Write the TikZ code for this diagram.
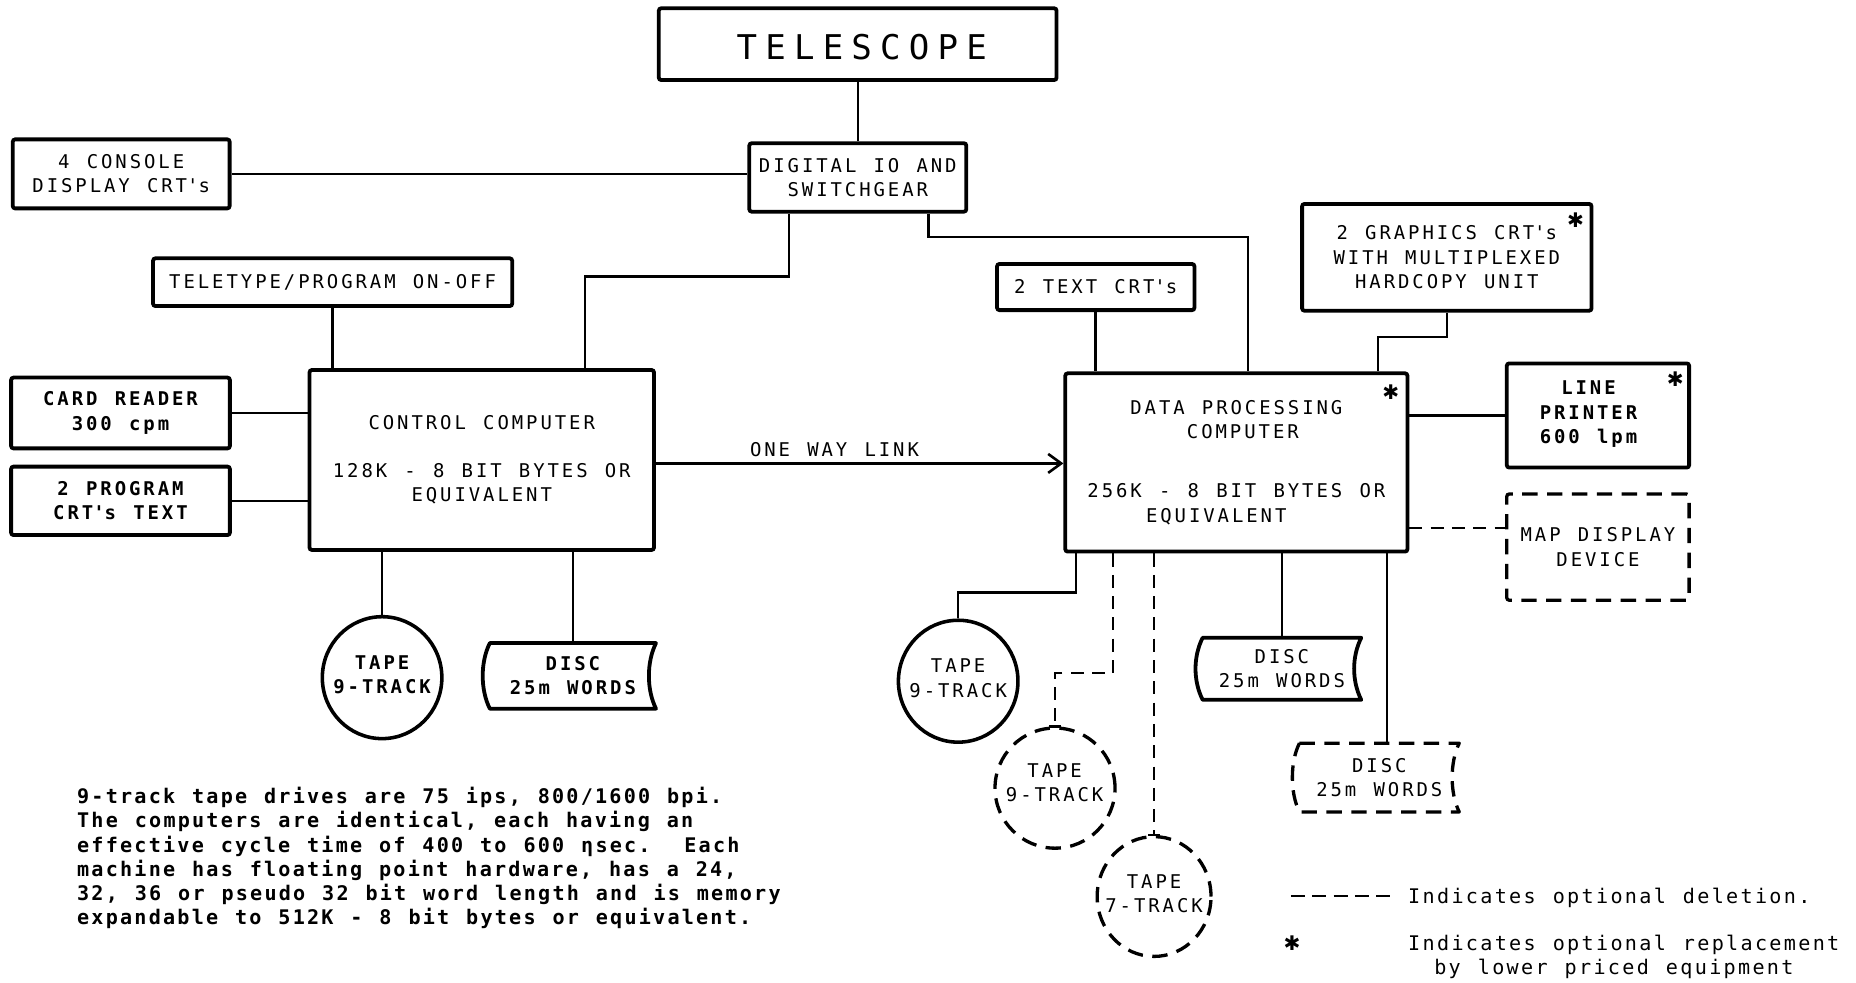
\documentclass[tikz,border=0pt]{standalone}
\usepackage{fontspec}
\usetikzlibrary{shapes.geometric,arrows.meta,calc}
\newfontfamily\lblfont[LetterSpace=15.5,WordSpace=1.2]{DejaVu Sans Mono}
\newfontfamily\bodyfont[LetterSpace=11,WordSpace=1.18]{DejaVu Sans Mono}
\newfontfamily\legfont[LetterSpace=11.5,WordSpace=1.18]{DejaVu Sans Mono}
\newfontfamily\telfont[LetterSpace=24]{DejaVu Sans Mono}
\newfontfamily\starfont{DejaVu Sans}
\newcommand\qsq{\textquotesingle}
\newcommand\discoutline[2]{%
  \draw[#2] (#1.north west) -- (#1.north east)
    .. controls ($(#1.north east)+(-8,16)$) and ($(#1.south east)+(-8,-16)$) .. (#1.south east)
    -- (#1.south west)
    .. controls ($(#1.south west)+(-8,-16)$) and ($(#1.north west)+(-8,16)$) .. cycle;}
\tikzset{
  wh/.style 2 args={minimum width=#1pt, minimum height=#2pt},
  lbl/.style={inner sep=0pt, align=center, font=\lblfont\fontsize{16}{20.5}\selectfont},
  lblB/.style={inner sep=0pt, align=center, font=\lblfont\bfseries\fontsize{16}{20.5}\selectfont},
  box/.style={lbl, draw, line width=3.2pt, rounded corners=2pt},
  dbox/.style={lbl, draw, line width=2.8pt, rounded corners=2pt, dash pattern=on 13pt off 8pt},
  tape/.style={ellipse, draw, line width=3pt, inner sep=0pt},
  dtape/.style={ellipse, draw, line width=2.8pt, inner sep=0pt, dash pattern=on 13pt off 8pt},
  discn/.style={lbl, rectangle},
  shapeline/.style={line width=3.2pt, line join=round},
  dshapeline/.style={line width=2.8pt, line join=round, dash pattern=on 13pt off 8pt},
  conn/.style={line width=2.2pt},
  dconn/.style={line width=2.2pt, dash pattern=on 11pt off 7pt},
  starn/.style={inner sep=0pt, font=\starfont\bfseries\fontsize{17}{17}\selectfont},
  tel/.style={inner sep=0pt, font=\telfont\fontsize{28.8}{30}\selectfont},
  body/.style={inner sep=0pt, align=left, font=\bodyfont\bfseries\fontsize{17}{20.4}\selectfont},
  leg/.style={inner sep=0pt, font=\legfont\fontsize{17}{20.4}\selectfont}
}
\begin{document}
\begin{tikzpicture}[x=1pt,y=-1pt]
\useasboundingbox (0,0) rectangle (1568,830);

% ---- boxes ----
\node[box, wh={336}{60.6}] (telescope) at (724.6,37.3) {};
\node[tel] (telescope-t) at (728,39.4) {TELESCOPE};
\node[box, wh={183.3}{57.8}] (dio) at (724.7,149.9) {DIGITAL IO AND\\SWITCHGEAR};
\node[box, wh={183.2}{58.3}] (console) at (102.4,146.9) {4 CONSOLE\\DISPLAY CRT\qsq s};
\node[box, wh={303.4}{40.3}] (teletype) at (281,238.4) {TELETYPE/PROGRAM ON-OFF};
\node[box, lblB, draw, wh={184.8}{59.8}] (card) at (101.8,348.9) {CARD READER\\300 cpm};
\node[box, lblB, draw, wh={184.8}{57.8}] (prog) at (101.8,423.1) {2 PROGRAM\\CRT\qsq s TEXT};
\node[box, wh={291}{152}] (control) at (407,388.6) {CONTROL COMPUTER\\[19.5pt]128K - 8 BIT BYTES OR\\EQUIVALENT};

\node[box, wh={289}{150.6}] (dp) at (1044.5,390.7) {DATA PROCESSING\\\hspace*{11pt}COMPUTER\\[29.4pt]256K - 8 BIT BYTES OR\\\hspace*{-34pt}EQUIVALENT};
\node[box, wh={166.7}{39}] (textcrt) at (925.7,242.5) {2 TEXT CRT\qsq s};
\node[box, wh={244.5}{90.2}] (graphics) at (1222.3,217.4) {2 GRAPHICS CRT\qsq s\\WITH MULTIPLEXED\\HARDCOPY UNIT};
\node[box, wh={154}{88}] (printer) at (1350,351) {};
\node[lblB] (printer-t) at (1342,350) {LINE\\PRINTER\\600 lpm};
\node[dbox, wh={154}{89.7}] (map) at (1350,462.2) {MAP DISPLAY\\DEVICE};

% stars
\node[starn] (star-dp) at (1175,331) {✱};
\node[starn] (star-gr) at (1331,186.4) {✱};
\node[starn] (star-pr) at (1415.4,320.5) {✱};

% tapes
\node[tape, wh={101}{103}] (tape1) at (322.8,572.5) {};
\node[lblB] (tape1-t) at (322.8,570) {TAPE\\9-TRACK};
\node[tape, wh={101}{103}] (tape2) at (809.5,575.5) {};
\node[lbl] (tape2-t) at (809.5,573) {TAPE\\9-TRACK};
\node[dtape, wh={101.4}{101.5}] (tape3) at (891.3,665.8) {};
\node[lbl] (tape3-t) at (891,661) {TAPE\\9-TRACK};
\node[dtape, wh={96.2}{101.2}] (tape4) at (975,757.4) {};
\node[lbl] (tape4-t) at (975,755) {TAPE\\7-TRACK};

% discs
\node[discn, lblB, wh={140}{55}] (disc1) at (484,571) {DISC\\25m WORDS};
\discoutline{disc1}{shapeline}
\node[discn, wh={133.6}{52}] (disc2) at (1083,565) {DISC\\25m WORDS};
\discoutline{disc2}{shapeline}
\node[discn, wh={134.6}{57.7}] (disc3) at (1165.3,656.9) {DISC\\25m WORDS};
\discoutline{disc3}{dshapeline}

% ---- connectors ----
\draw[conn] (dio.north) -- (dio.north |- telescope.south);
\draw[conn] (console.east) -- (console.east -| dio.west);
\draw[conn] ([xshift=35pt]dio.south west) |- ([xshift=234.3pt,yshift=77.6pt]control.north west) -- ([xshift=234.3pt]control.north west);
\draw[conn] ([xshift=-33.4pt]dio.south east) |- ([xshift=156pt,yshift=113.5pt]dp.north west) -- ([xshift=156pt]dp.north west);
\draw[conn] (teletype.south) -- (teletype.south |- control.north);
\draw[conn] (card.east) -- (card.east -| control.west);
\draw[conn] (prog.east) -- (prog.east -| control.west);
\draw[conn] (tape1.north |- control.south) -- (tape1.north);
\draw[conn] (disc1.north |- control.south) -- (disc1.north);

\coordinate (lkA) at ([yshift=-2.9pt]control.east);
\draw[conn, -{Straight Barb[length=11pt,width=16pt]}] (lkA) -- (lkA -| dp.west);
\node[lbl] (link) at (705,380) {ONE WAY LINK};

\draw[conn] (textcrt.south) -- (textcrt.south |- dp.north);
\draw[conn] (graphics.south) |- ([xshift=265.8pt,yshift=29pt]dp.north west) -- ([xshift=265.8pt]dp.north west);
\draw[conn] (printer.west) -- (printer.west -| dp.east);
\coordinate (mpA) at ([yshift=21.6pt]dp.south east);
\draw[dconn] (mpA) -- (mpA -| map.west);

\draw[conn] ([xshift=10.6pt]dp.south west) |- ([yshift=22pt]tape2.north) -- (tape2.north);
\draw[dconn] ([xshift=42pt]dp.south west) |- ([yshift=45pt]tape3.north) -- (tape3.north);
\draw[conn] ([xshift=-5pt]tape3.north) -- ([xshift=5pt]tape3.north);
\draw[dconn] (tape4.north |- dp.south) -- (tape4.north);
\draw[conn] ([xshift=-5pt]tape4.north) -- ([xshift=5pt]tape4.north);
\draw[conn] (disc2.north |- dp.south) -- (disc2.north);
\coordinate (d3A) at ([xshift=273.5pt]dp.south west);
\draw[conn] (d3A) -- (d3A |- disc3.north);

% ---- notes ----
\node[body, anchor=north west] (notes) at (65,665) {9-track tape drives are 75 ips, 800/1600 bpi.\\
The computers are identical, each having an\\
effective cycle time of 400 to 600 ηsec.\ \ Each\\
machine has floating point hardware, has a 24,\\
32, 36 or pseudo 32 bit word length and is memory\\
expandable to 512K - 8 bit bytes or equivalent.};

% ---- legend ----
\coordinate (lgA) at (1090.6,757);
\coordinate (lgB) at (1177,757);
\draw[line width=2.4pt, dash pattern=on 12pt off 6pt] (lgA) -- (lgB);
\node[leg, anchor=base west] (leg1) at (1189.5,763) {Indicates optional deletion.};
\node[starn] (legstar) at (1091.5,797) {✱};
\node[leg, anchor=base west] (leg2) at (1189.5,803) {Indicates optional replacement};
\node[leg, anchor=base west] (leg3) at (1211.5,823) {by lower priced equipment};
\end{tikzpicture}
\end{document}
